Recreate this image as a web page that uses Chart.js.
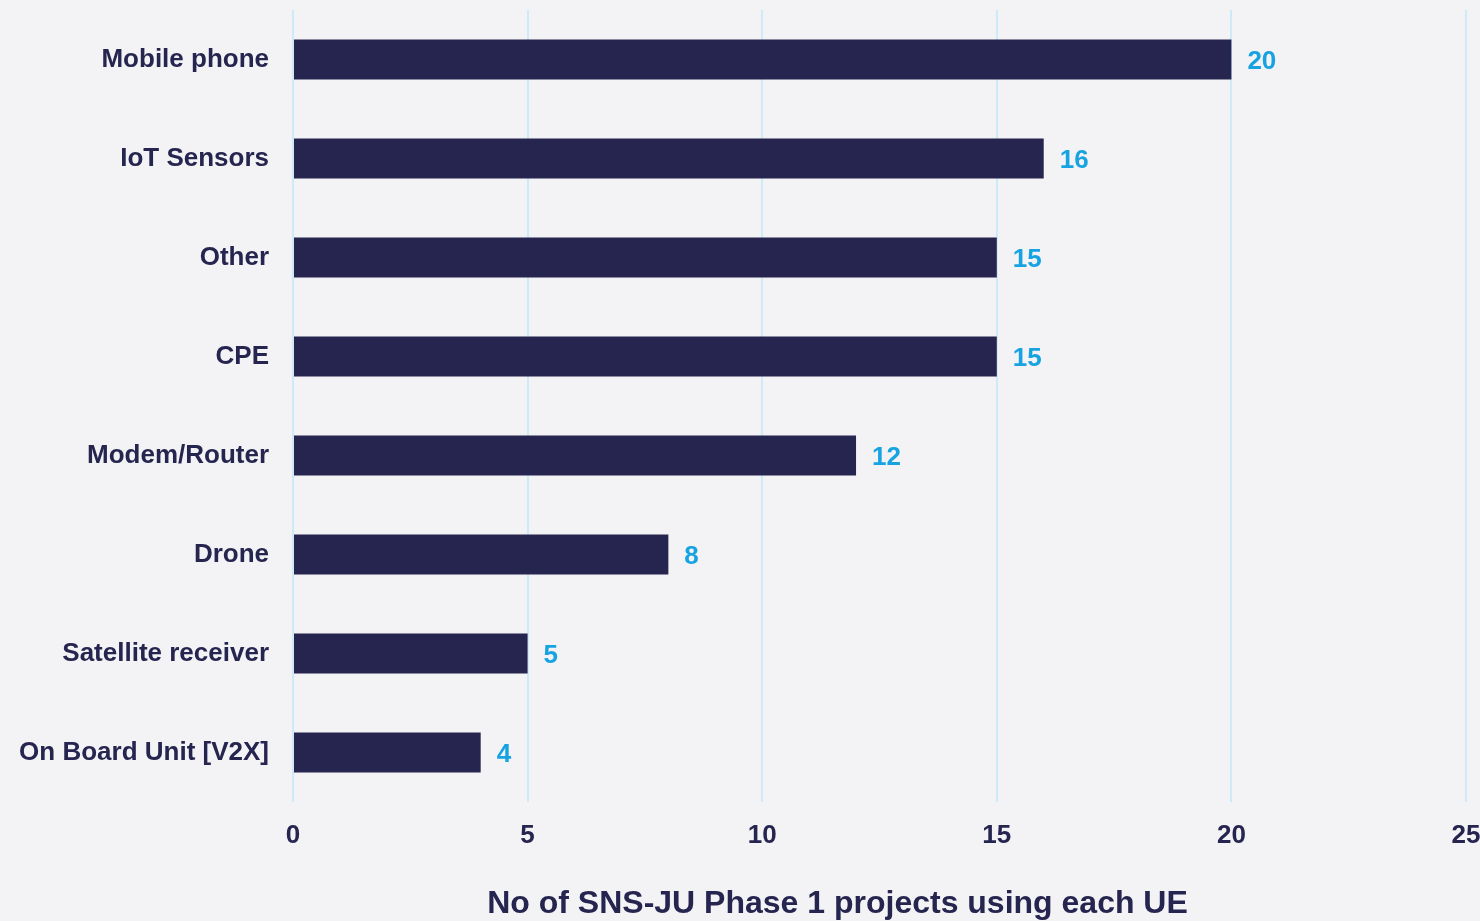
<!DOCTYPE html>
<html>
<head>
<meta charset="utf-8">
<title>UE types in SNS-JU Phase 1 projects</title>
<script src="https://cdn.jsdelivr.net/npm/chart.js@4.4.0/dist/chart.umd.min.js"></script>
<style>
  html, body { margin: 0; padding: 0; background: #f3f3f6; }
  #wrap { width: 1480px; height: 921px; }
</style>
</head>
<body>
<div id="wrap"><canvas id="ueChart" width="1480" height="921"></canvas></div>
<script>
const categories = [
  "Mobile phone",
  "IoT Sensors",
  "Other",
  "CPE",
  "Modem/Router",
  "Drone",
  "Satellite receiver",
  "On Board Unit [V2X]"
];
const projectCounts = [20, 16, 15, 15, 12, 8, 5, 4];
const xTicks = [0, 5, 10, 15, 20, 25];
const axisTitle = "No of SNS-JU Phase 1 projects using each UE";

const navy = '#26254f';
const cyan = '#17a3e1';
const gridBlue = '#cdeaf8';
const fontFamily = 'Arial, "Liberation Sans", Helvetica, sans-serif';

// value labels at the end of each bar
const barValueLabels = {
  id: 'barValueLabels',
  afterDatasetsDraw(chart) {
    const ctx = chart.ctx;
    const meta = chart.getDatasetMeta(0);
    ctx.save();
    ctx.font = 'bold 26px ' + fontFamily;
    ctx.fillStyle = cyan;
    ctx.textAlign = 'left';
    ctx.textBaseline = 'middle';
    meta.data.forEach((bar, i) => {
      ctx.fillText(String(projectCounts[i]), bar.x + 16, bar.y + 2);
    });
    ctx.restore();
  }
};

// x axis title sits under the tick labels
const bottomTitle = {
  id: 'bottomTitle',
  afterDraw(chart) {
    const ctx = chart.ctx;
    const area = chart.chartArea;
    ctx.save();
    ctx.font = 'bold 32px ' + fontFamily;
    ctx.fillStyle = navy;
    ctx.textAlign = 'center';
    ctx.textBaseline = 'middle';
    ctx.fillText(axisTitle, (area.left + area.right) / 2 - 42, 904);
    ctx.restore();
  }
};

new Chart(document.getElementById('ueChart'), {
  type: 'bar',
  data: {
    labels: categories,
    datasets: [{
      data: projectCounts,
      backgroundColor: navy,
      borderWidth: 0,
      barPercentage: 0.8,
      categoryPercentage: 0.504
    }]
  },
  options: {
    indexAxis: 'y',
    responsive: false,
    animation: false,
    layout: { padding: { top: 10, right: 14, bottom: 70, left: 0 } },
    plugins: {
      legend: { display: false },
      tooltip: { enabled: false }
    },
    scales: {
      x: {
        min: 0,
        max: 25,
        afterBuildTicks(scale) {
          scale.ticks = xTicks.map(v => ({ value: v }));
        },
        afterFit(scale) {
          scale.height = 49;
          scale.paddingLeft = 0;
          scale.paddingRight = 0;
        },
        grid: { color: gridBlue, lineWidth: 2, drawTicks: false },
        border: { display: false },
        ticks: {
          color: navy,
          padding: 18,
          maxRotation: 0,
          font: { family: fontFamily, size: 26, weight: 'bold' }
        }
      },
      y: {
        afterFit(scale) {
          scale.width = 293;
          scale.paddingTop = 0;
          scale.paddingBottom = 0;
        },
        grid: { display: false, drawTicks: false },
        border: { display: false },
        ticks: {
          color: navy,
          padding: 24,
          font: { family: fontFamily, size: 26, weight: 'bold' }
        }
      }
    }
  },
  plugins: [barValueLabels, bottomTitle]
});
</script>
</body>
</html>
